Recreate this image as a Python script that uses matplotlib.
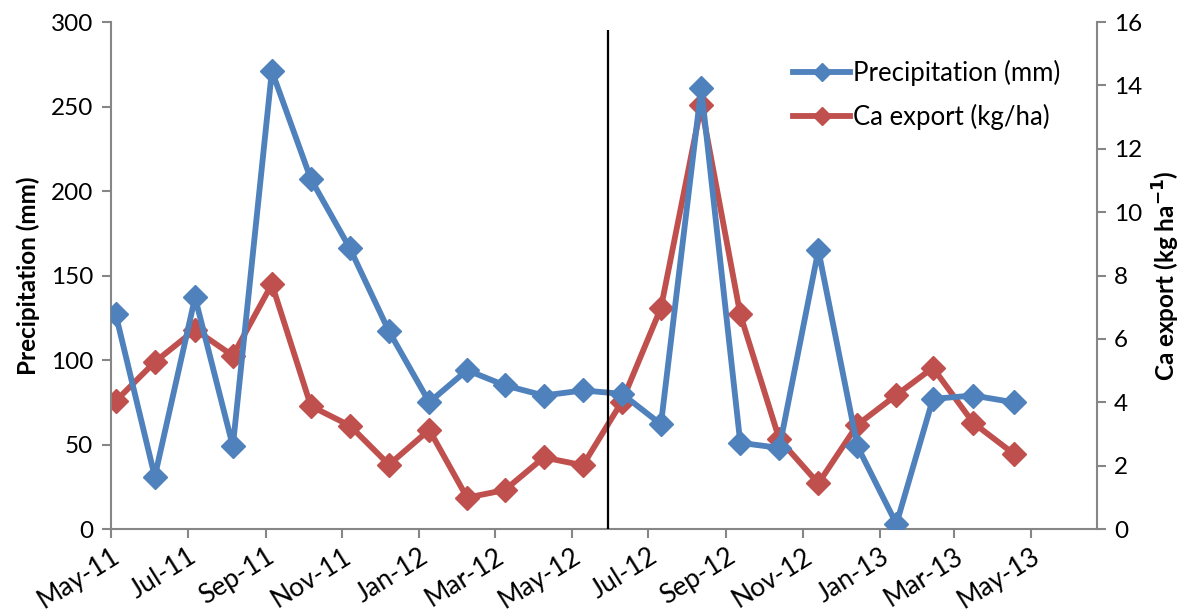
import matplotlib
matplotlib.use("Agg")
import matplotlib.pyplot as plt
import matplotlib.dates as mdates
import numpy as np

plt.rcParams['font.family'] = ['Lato', 'DejaVu Sans']

# sampling dates (one sample per month)
dates = np.array(['2011-05-05', '2011-06-05', '2011-07-07', '2011-08-06',
                  '2011-09-06', '2011-10-07', '2011-11-07', '2011-12-08',
                  '2012-01-09', '2012-02-08', '2012-03-09', '2012-04-09',
                  '2012-05-10', '2012-06-10', '2012-07-11', '2012-08-12',
                  '2012-09-12', '2012-10-13', '2012-11-13', '2012-12-14',
                  '2013-01-14', '2013-02-12', '2013-03-16', '2013-04-17'],
                 dtype='datetime64[D]')

precip = [127, 31, 137, 49, 271, 207, 166, 117, 75, 94, 85, 79,
          82, 80, 62, 261, 51, 48, 165, 49, 3, 77, 79, 75]

ca_export = [4.04, 5.27, 6.29, 5.47, 7.73, 3.88, 3.26, 2.03, 3.13, 0.99, 1.23, 2.26,
             2.01, 4.02, 6.98, 13.37, 6.77, 2.83, 1.44, 3.29, 4.23, 5.09, 3.35, 2.38]

split_date = np.datetime64('2012-05-30')

blue = '#4F81BD'
red = '#C0504D'
grey = '#868686'
fs = 17.5

fig = plt.figure(figsize=(11.84, 6.15), dpi=100)
ax = fig.add_axes([0.0935, 0.1398, 0.8327, 0.8244])
ax2 = ax.twinx()

l1, = ax.plot(dates, precip, color=blue, lw=4.2, marker='D', ms=12,
              label='Precipitation (mm)', zorder=3)
l2, = ax2.plot(dates, ca_export, color=red, lw=4.2, marker='D', ms=12,
               label='Ca export (kg/ha)', zorder=3)

ax.vlines(split_date, 0, 295, color='black', lw=1.6, zorder=4)

ax.set_ylim(0, 300)
ax.set_yticks(np.arange(0, 301, 50))
ax2.set_ylim(0, 16)
ax2.set_yticks(np.arange(0, 17, 2))
ax.set_xlim(np.datetime64('2011-05-01'), np.datetime64('2013-06-22'))

ax.xaxis.set_major_locator(mdates.MonthLocator(bymonth=[1, 3, 5, 7, 9, 11]))
ax.xaxis.set_major_formatter(mdates.DateFormatter('%b-%y'))

for a in (ax, ax2):
    a.spines['top'].set_visible(False)
    for s in ('left', 'right', 'bottom'):
        a.spines[s].set_color(grey)
        a.spines[s].set_linewidth(1.5)
    a.tick_params(axis='both', which='major', labelsize=fs, color=grey,
                  width=1.5, length=6.5, direction='out', pad=6)
ax.spines['right'].set_visible(False)
ax2.spines['left'].set_visible(False)
ax2.spines['bottom'].set_visible(False)
ax.tick_params(axis='x', labelsize=19, pad=4)
plt.setp(ax.get_xticklabels(), rotation=32, ha='right', rotation_mode='anchor')

ax.set_ylabel('Precipitation (mm)', fontsize=fs, fontweight='bold', labelpad=8)
ax2.set_ylabel('Ca export (kg ha$^{\\mathbf{-1}}$)', fontsize=fs,
               fontweight='bold', labelpad=6)

ax.set_zorder(ax2.get_zorder() + 1)
ax.patch.set_visible(False)

fig.legend(handles=[l1, l2], loc='upper left', bbox_to_anchor=(783 / 1184, 1 - 50 / 615),
           frameon=False, fontsize=18.5, handlelength=2.2, handletextpad=0.12,
           labelspacing=0.7, markerscale=0.75, borderaxespad=0)

fig.savefig('out.png', dpi=100)
